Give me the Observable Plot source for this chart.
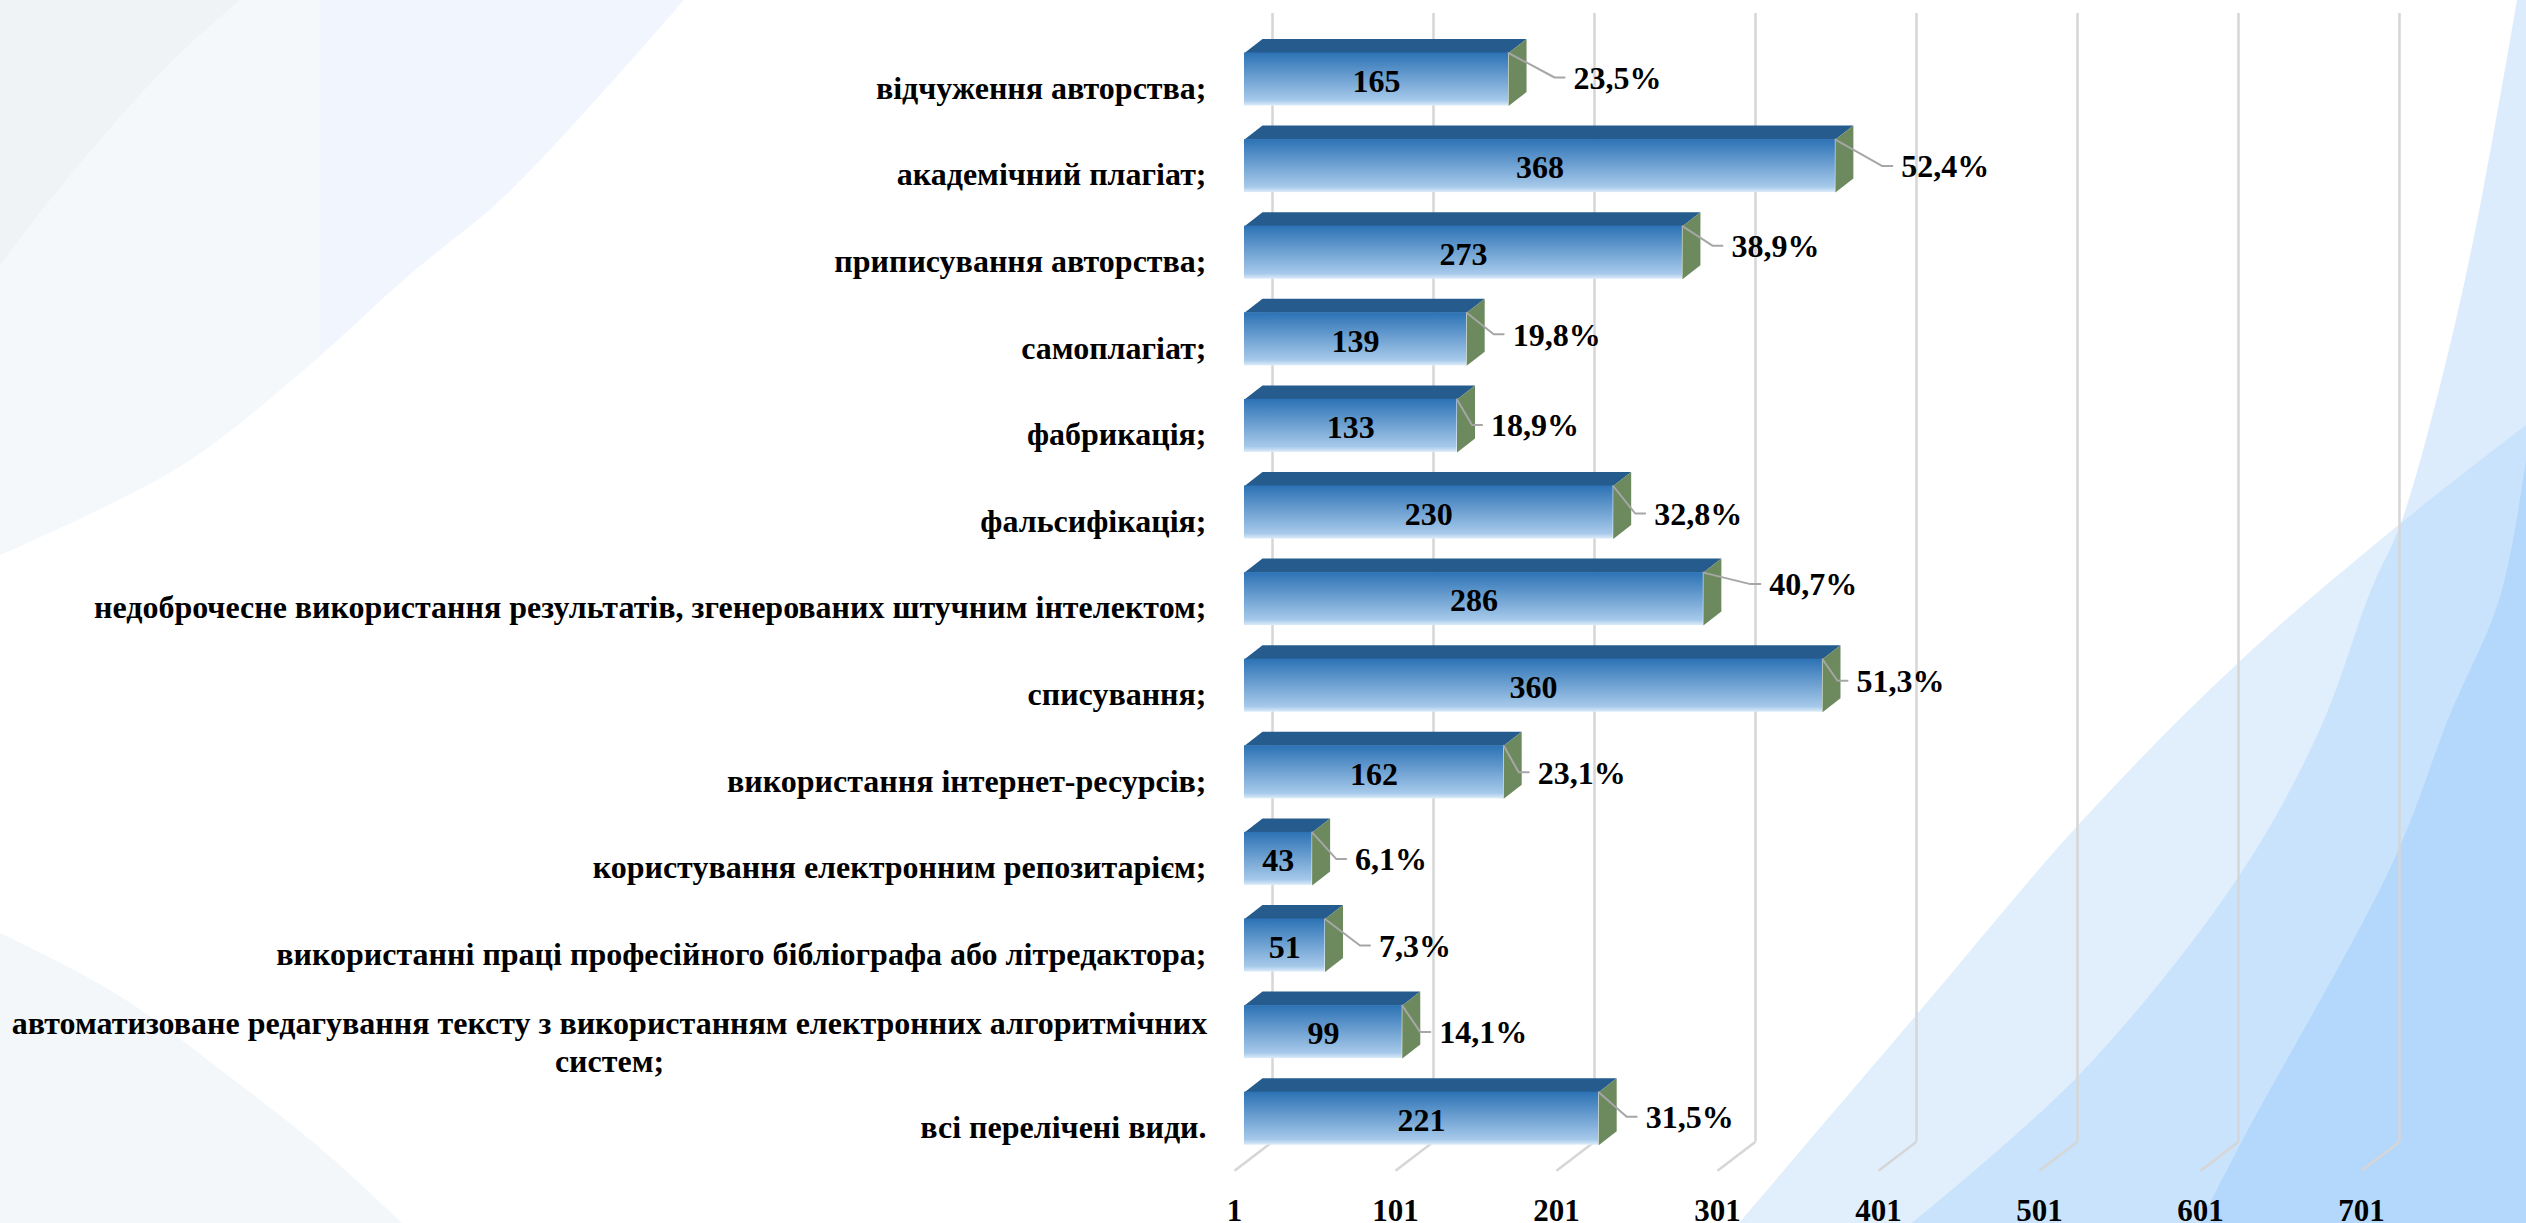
<!DOCTYPE html>
<html lang="uk">
<head>
<meta charset="utf-8">
<style>html,body{margin:0;padding:0;background:#fff;overflow:hidden}</style>
<script src="https://cdn.jsdelivr.net/npm/d3@7"></script>
<script src="https://cdn.jsdelivr.net/npm/@observablehq/plot@0.6"></script>
</head>
<body>
<div id="chart"></div>
<script>
const categories = [
  "відчуження авторства;",
  "академічний плагіат;",
  "приписування авторства;",
  "самоплагіат;",
  "фабрикація;",
  "фальсифікація;",
  "недоброчесне використання результатів, згенерованих штучним інтелектом;",
  "списування;",
  "використання інтернет-ресурсів;",
  "користування електронним репозитарієм;",
  "використанні праці професійного бібліографа або літредактора;",
  "автоматизоване редагування тексту з використанням електронних алгоритмічних\nсистем;",
  "всі перелічені види."
];
const counts = [165, 368, 273, 139, 133, 230, 286, 360, 162, 43, 51, 99, 221];
const shares = ["23,5%", "52,4%", "38,9%", "19,8%", "18,9%", "32,8%", "40,7%", "51,3%", "23,1%", "6,1%", "7,3%", "14,1%", "31,5%"];
const xTicks = [1, 101, 201, 301, 401, 501, 601, 701];

// Layout of the outside labels, as in the picture (pixels from the bar's end and its middle).
const labelGaps = [65, 66, 49, 46, 34, 41, 66, 34, 34, 43, 54, 37, 47];
const labelLifts = [-1, 1, -6, -4, 0, 2, -14, -4, 1, 1, 1, 1, -1];

const W = 2526, H = 1223;
const left = 1244, pxPerX = 1.61, top0 = 79, step = 86.6;
const px = p => p / pxPerX;      // pixels → x units
const py = p => p / step;        // pixels → y units
const half = py(26.5), depthX = px(18), depthY = py(14);

const rows = categories.map((name, i) => ({
  i, name, v: counts[i], share: shares[i],
  lx: counts[i] + px(labelGaps[i]),
  ly: i + py(labelLifts[i])
}));

const poly = (get) => rows.flatMap(d => get(d).map(([x, y]) => ({x, y, z: d.i})));
const topFaces = poly(d => [
  [1, d.i - half], [1 + depthX, d.i - half - depthY],
  [d.v + depthX, d.i - half - depthY], [d.v, d.i - half]
]);
const sideFaces = poly(d => [
  [d.v, d.i - half], [d.v + depthX, d.i - half - depthY],
  [d.v + depthX, d.i + half - depthY], [d.v, d.i + half]
]);
const leaders = poly(d => [
  [d.v, d.i - half],
  [d.lx - px(19), d.ly - py(1)],
  [d.lx - px(9), d.ly - py(1)]
]);

const FONT = "'Liberation Serif', serif";
const wallX = px(28), floorFront = 12 + py(52), floorBack = 12 + py(23), wallTop = py(13 - top0);

// Decorative slide backdrop and the bar gradient (no data here)
const smooth = d3.line().curve(d3.curveCatmullRom);
const shape = (edge, ...corners) => smooth(edge) + corners.map(([x, y]) => `L${x} ${y}`).join("") + "Z";
const bandEdge = [[2526,425],[2401,523],[2239,662],[2080,823],[1918,1013],[1739,1223]];
const rightEdge = [[2517,0],[2483,191],[2450,345],[2401,523],[2371,590],[2320,729],[2237,879],[2080,1074],[1912,1223]];
const deepEdge = [[2526,460],[2500,597],[2449,717],[2393,862],[2242,1141],[2200,1223]];
const ul = [[684,0],[510,191],[408,276],[306,368],[179,467],[0,555]];
const ulIn = [[240,0],[168,65],[66,180],[0,265]];
const ll = [[0,933],[115,993],[230,1077],[326,1153],[402,1223]];
const backdrop = () => {
  const g = d3.create("svg:g");
  g.html(`
    <defs>
      <linearGradient id="front" x1="0" y1="0" x2="0" y2="1">
        <stop offset="0" stop-color="#2c72b5"/>
        <stop offset="0.9" stop-color="#a6c9ea"/>
        <stop offset="1" stop-color="#dcecf9"/>
      </linearGradient>
      <clipPath id="bandClip"><path d="${shape(bandEdge, [2526,1223])}"/></clipPath>
      <clipPath id="leftPart"><rect width="320" height="600"/></clipPath>
    </defs>
    <rect width="${W}" height="${H}" fill="#fff"/>
    <path d="${shape(ul, [0,0])}" fill="#f1f5fd"/>
    <path clip-path="url(#leftPart)" d="${shape(ul, [0,0])}" fill="#f4f8fa"/>
    <path d="${shape(ulIn, [0,0])}" fill="#eff3f6"/>
    <path d="${shape(ll, [0,1223])}" fill="#f3f7fa"/>
    <path d="${shape(rightEdge, [2526,1223], [2526,0])}" fill="#dcecfc"/>
    <path d="${shape(bandEdge, [2526,1223])}" fill="#e1effc"/>
    <path clip-path="url(#bandClip)" d="${shape(rightEdge, [2526,1223], [2526,0])}" fill="#c8e3fb"/>
    <path d="${shape(deepEdge, [2526,1223])}" fill="#b3d8fb"/>
  `);
  return g.node();
};

const textBase = {fontFamily: FONT, fontWeight: "bold", fill: "#000"};

const chart = Plot.plot({
  width: W, height: H,
  marginLeft: left, marginRight: W - left - 700 * pxPerX,
  marginTop: top0, marginBottom: H - (top0 + 12 * step),
  style: {background: "none", fontFamily: FONT, overflow: "visible"},
  x: {type: "linear", domain: [1, 701]},
  y: {type: "linear", domain: [0, 12], reverse: true},
  marks: [
    backdrop,
    // wall gridlines and their floor feet
    Plot.ruleX(xTicks, {x: d => d + wallX, y1: wallTop, y2: floorBack, stroke: "#d6d6d6", strokeWidth: 2.5}),
    Plot.link(xTicks, {x1: d => d - px(10), y1: floorFront, x2: d => d + wallX, y2: floorBack, stroke: "#d6d6d6", strokeWidth: 2.5}),
    // 3-D bars
    Plot.line(topFaces, {x: "x", y: "y", z: "z", fill: "#265b8e", stroke: "none"}),
    Plot.rect(rows, {x1: 1, x2: "v", y1: d => d.i - half, y2: d => d.i + half, fill: "url(#front)"}),
    Plot.line(sideFaces, {x: "x", y: "y", z: "z", fill: "#6c8a5e", stroke: "none"}),
    // leader lines
    Plot.line(leaders, {x: "x", y: "y", z: "z", stroke: "#a6a6a6", strokeWidth: 2, fill: "none"}),
    // value labels
    Plot.text(rows, {x: d => (1 + d.v) / 2, y: "i", dy: 2, text: d => String(d.v), fontSize: 32, ...textBase}),
    Plot.text(rows, {x: "lx", y: "ly", text: "share", textAnchor: "start", fontSize: 32, ...textBase}),
    // category labels
    Plot.text(rows.filter(d => !d.name.includes("\n")), {
      x: 1, y: d => d.i + py(d.i === 12 ? 9 : 9), dx: -38, text: "name", textAnchor: "end", fontSize: 32, ...textBase
    }),
    Plot.text(rows.filter(d => d.name.includes("\n")), {
      x: 1, y: d => d.i + py(9), dx: -635, text: "name", textAnchor: "middle", lineHeight: 1.19, fontSize: 32, ...textBase
    }),
    // x axis
    Plot.axisX({ticks: xTicks, tickFormat: String, tickSize: 0, tickPadding: 0, dx: -10, dy: 80, fontSize: 31, fontWeight: "bold", fontFamily: FONT, fill: "#000", label: null})
  ]
});
document.getElementById("chart").append(chart);
</script>
</body>
</html>
